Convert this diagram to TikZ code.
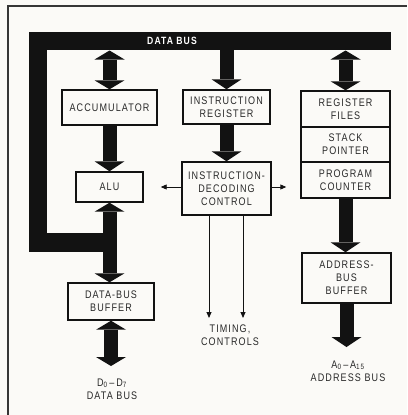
\documentclass[tikz,border=0pt]{standalone}
\usepackage{fontspec}
\setmainfont{Liberation Sans}[FakeStretch=0.82, LetterSpace=10]
\usetikzlibrary{arrows.meta}
\definecolor{ink}{RGB}{18,18,18}
\definecolor{paper}{RGB}{251,250,247}
\definecolor{txt}{RGB}{40,40,40}
\newcommand\lblfont{\fontsize{11}{12.8}\selectfont}
\newcommand\busfont{\fontsize{10.5}{11}\selectfont\bfseries}
\tikzset{
  box/.style={draw=ink, line width=1.4pt, fill=paper, inner sep=0pt, align=center, font=\lblfont, text=txt},
  fat/.style={draw=ink, line width=14pt, -{Triangle[width=30pt,length=10pt,line width=0pt]}},
  fatdbl/.style={draw=ink, line width=14pt, {Triangle[width=30pt,length=9pt,line width=0pt]}-{Triangle[width=30pt,length=9pt,line width=0pt]}},
  thinarr/.style={draw=ink, line width=0.9pt, -{Triangle[width=5pt,length=6pt]}},
  bus/.style={draw=ink, line width=18.5pt, line join=miter},
  caption/.style={align=center, font=\lblfont, text=txt, inner sep=0pt}
}
\begin{document}
\begin{tikzpicture}[x=1pt, y=-1pt]
\fill[paper] (0,0) rectangle (407,415);
\useasboundingbox (0,0) rectangle (407,415);
% frame
\draw[ink!85, line width=1.4pt] (8,415) -- (8,6) -- (407,6);

% boxes
\node[box, minimum width=95pt, minimum height=35pt] (acc) at (109.5,107.5) {ACCUMULATOR};
\node[box, minimum width=87pt, minimum height=34pt] (ir) at (226.5,107) {INSTRUCTION\\REGISTER};
\node[box, minimum width=89pt, minimum height=36pt] (rf) at (345.5,109) {REGISTER\\FILES};
\node[box, minimum width=89pt, minimum height=35pt] (sp) at (345.5,144.5) {STACK\\POINTER};
\node[box, minimum width=89pt, minimum height=36pt] (pc) at (345.5,180) {PROGRAM\\COUNTER};
\node[box, minimum width=67pt, minimum height=30pt] (alu) at (109.5,187) {ALU};
\node[box, minimum width=89pt, minimum height=53pt] (idc) at (226.5,188.5) {INSTRUCTION-\\DECODING\\CONTROL};
\node[box, minimum width=86pt, minimum height=37pt] (dbb) at (111,301.5) {DATA-BUS\\BUFFER};
\node[box, minimum width=89pt, minimum height=50pt] (abb) at (346.5,278) {ADDRESS-\\BUS\\BUFFER};

% data bus
\coordinate (busR) at (391,41);
\coordinate (busTL) at (38,41);
\coordinate (busBL) at (38,242.5);
\coordinate (busJ) at (110,242.5);
\coordinate (busbot) at (0,50.5);
\coordinate (busmid) at (0,45);
\draw[bus] (busR) -- (busTL) -- (busBL) -- (busJ);
\node[text=white, font=\busfont, inner sep=0pt] (buslbl) at (172,41) {DATA BUS};

% fat arrows
\draw[fatdbl] (acc.north |- busbot) -- (acc.north);
\draw[fat] (acc.south) -- (alu.north);
\draw[fatdbl] (alu.south) -- (alu.south |- dbb.north);
\coordinate (dend) at (111,366);
\draw[fatdbl] (dbb.south) -- (dend);
\draw[fat] (ir.north |- busmid) -- (ir.north);
\draw[fat] (ir.south) -- (idc.north);
\draw[fatdbl] (rf.north |- busbot) -- (rf.north);
\draw[fat] (pc.south) -- (pc.south |- abb.north);
\coordinate (aend) at (346.5,347);
\draw[fat] (abb.south) -- (aend);

% thin arrows
\draw[thinarr, shorten >=17pt] (alu.east -| idc.west) -- (alu.east);
\draw[thinarr, shorten >=14pt] (idc.east |- alu.east) -- (alu.east -| pc.west);
\coordinate (t1) at (209,318);
\coordinate (t2) at (243,318);
\draw[thinarr] (idc.south -| t1) -- (t1);
\draw[thinarr] (idc.south -| t2) -- (t2);

% captions
\node[caption] (timing) at (230,335) {TIMING,\\CONTROLS};
\node[caption] (dcap) at (112,389) {D\textsubscript{0}\,--\,D\textsubscript{7}\\DATA BUS};
\node[caption] (acap) at (348,371) {A\textsubscript{0}\,--\,A\textsubscript{15}\\ADDRESS BUS};
\end{tikzpicture}
\end{document}
